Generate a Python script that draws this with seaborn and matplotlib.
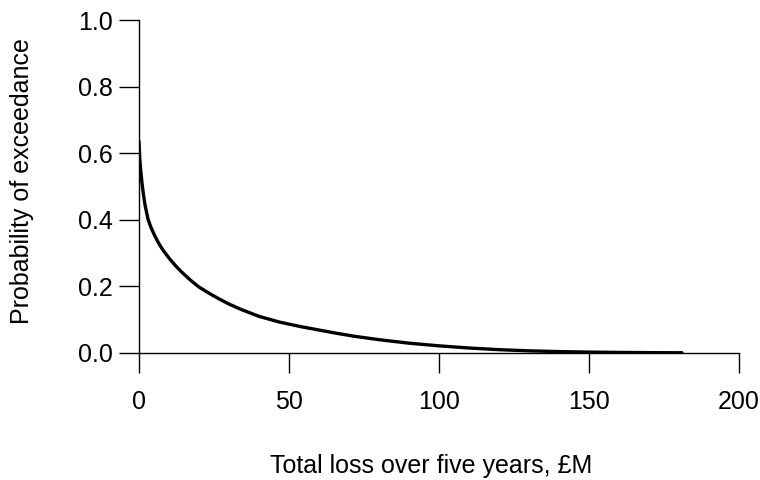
import matplotlib
matplotlib.use("Agg")
import matplotlib.pyplot as plt
import seaborn as sns
import pandas as pd

# Exceedance curve for total five-year loss
loss_m = [0, 0.25, 0.5, 1, 1.5, 2, 3, 4, 5, 6, 7, 8, 10, 12, 14, 17, 20, 24, 27,
          30, 34, 40, 47, 54, 60, 66, 72, 80, 90, 100, 110, 120, 130, 140, 150,
          160, 170, 181]
p_exceed = [0.635, 0.585, 0.555, 0.51, 0.475, 0.445, 0.402, 0.377, 0.357, 0.339,
            0.323, 0.309, 0.285, 0.264, 0.245, 0.220, 0.198, 0.176, 0.161, 0.147,
            0.131, 0.110, 0.0925, 0.079, 0.069, 0.059, 0.050, 0.040, 0.0295,
            0.0215, 0.015, 0.010, 0.0065, 0.0042, 0.0027, 0.0017, 0.0011, 0.0007]

x_ticks = [0, 50, 100, 150, 200]
y_ticks = [0.0, 0.2, 0.4, 0.6, 0.8, 1.0]

sns.set_theme(style="ticks")
plt.rcParams["font.family"] = ["Liberation Sans", "DejaVu Sans"]

df = pd.DataFrame({"loss": loss_m, "p": p_exceed})

W, H = 760, 480
fig = plt.figure(figsize=(W / 100, H / 100), dpi=100)
ax = fig.add_axes([139 / W, 1 - 353 / H, (739 - 139) / W, (353 - 20) / H])

sns.lineplot(data=df, x="loss", y="p", ax=ax, color="black", linewidth=2.4)

ax.set_xlim(0, 200)
ax.set_ylim(0, 1)
ax.set_xticks(x_ticks)
ax.set_xticklabels([f"{v:d}" for v in x_ticks])
ax.set_yticks(y_ticks)
ax.set_yticklabels([f"{v:.1f}" for v in y_ticks])
ax.set_xlabel("")
ax.set_ylabel("")

for s in ["top", "right"]:
    ax.spines[s].set_visible(False)
for s in ["left", "bottom"]:
    ax.spines[s].set_linewidth(1.0)
    ax.spines[s].set_color("black")

ax.tick_params(axis="x", length=14.4, width=1.0, pad=12, labelsize=18, colors="black")
ax.tick_params(axis="y", length=14.4, width=1.0, pad=4.5, labelsize=18, colors="black")
ax.set_facecolor("white")
fig.patch.set_facecolor("white")

fig.text(431 / W, 1 - 466 / H, "Total loss over five years, £M", ha="center",
         va="center", fontsize=18, color="black")
fig.text(22 / W, 1 - 181 / H, "Probability of exceedance", ha="center",
         va="center", rotation=90, fontsize=18, color="black")

fig.savefig("out.png", dpi=100)
